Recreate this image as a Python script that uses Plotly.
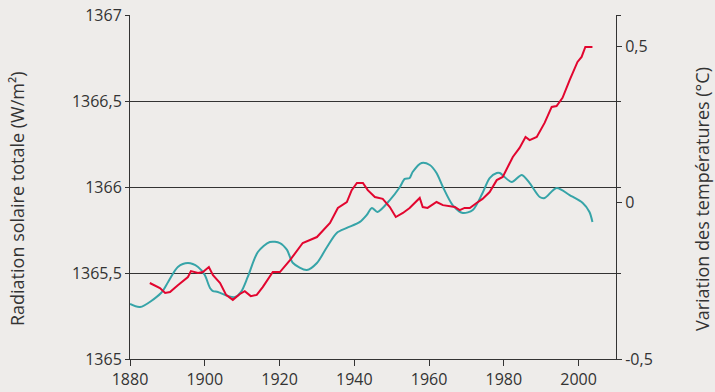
import plotly.graph_objects as go

# Total solar irradiance (W/m²), left axis
solar_years = [1880.0, 1882.7, 1888.3, 1890.2, 1892.8, 1895.5, 1898.2, 1900.0, 1901.4, 1902.2,
               1903.5, 1906.2, 1908.1, 1909.7, 1911.5, 1914.2, 1917.4, 1920.1, 1922.0, 1923.6,
               1927.3, 1930.0, 1932.7, 1935.3, 1938.0, 1941.5, 1943.3, 1944.7, 1946.2, 1949.5,
               1952.2, 1953.5, 1954.8, 1955.6, 1958.0, 1960.2, 1962.0, 1963.7, 1966.3, 1969.0,
               1971.7, 1974.3, 1976.2, 1978.1, 1978.9, 1982.1, 1984.8, 1986.9, 1989.6, 1990.9,
               1994.1, 1997.6, 2001.1, 2002.9, 2003.7]
solar_values = [1365.320, 1365.302, 1365.384, 1365.448, 1365.535, 1365.558, 1365.535, 1365.488, 1365.413, 1365.395,
                1365.390, 1365.366, 1365.360, 1365.390, 1365.477, 1365.622, 1365.680, 1365.674, 1365.634, 1365.558,
                1365.517, 1365.558, 1365.651, 1365.733, 1365.762, 1365.797, 1365.837, 1365.878, 1365.855, 1365.924,
                1366.000, 1366.047, 1366.052, 1366.087, 1366.140, 1366.128, 1366.081, 1366.000, 1365.895, 1365.849,
                1365.866, 1365.965, 1366.052, 1366.081, 1366.081, 1366.029, 1366.070, 1366.023, 1365.942, 1365.936,
                1365.994, 1365.953, 1365.907, 1365.855, 1365.797]

# Temperature anomaly (°C), right axis
temp_years = [1885.3, 1888.0, 1889.4, 1890.7, 1892.8, 1895.5, 1896.3, 1898.2, 1899.5, 1901.1,
              1902.2, 1904.1, 1905.7, 1907.5, 1909.4, 1910.7, 1912.3, 1913.9, 1915.5, 1918.2,
              1920.1, 1922.8, 1926.2, 1930.0, 1933.5, 1935.6, 1938.0, 1939.3, 1940.7, 1942.3,
              1943.6, 1945.5, 1947.6, 1949.5, 1951.1, 1953.0, 1954.8, 1957.5, 1958.3, 1959.6,
              1962.0, 1963.7, 1966.9, 1968.2, 1969.5, 1970.9, 1972.7, 1974.3, 1976.2, 1978.1,
              1979.7, 1981.0, 1982.4, 1984.2, 1985.8, 1986.9, 1988.8, 1990.9, 1992.8, 1994.1,
              1995.7, 1997.6, 1999.7, 2000.8, 2001.8, 2002.9, 2003.7]
temp_values = [-0.257, -0.273, -0.289, -0.286, -0.264, -0.238, -0.219, -0.225, -0.222, -0.206,
               -0.232, -0.257, -0.295, -0.311, -0.292, -0.283, -0.299, -0.295, -0.270, -0.222,
               -0.222, -0.184, -0.129, -0.110, -0.065, -0.017, 0.002, 0.040, 0.063, 0.063,
               0.040, 0.018, 0.012, -0.014, -0.046, -0.033, -0.017, 0.015, -0.014, -0.017,
               0.002, -0.008, -0.014, -0.024, -0.017, -0.017, -0.001, 0.012, 0.034, 0.072,
               0.082, 0.114, 0.146, 0.175, 0.210, 0.200, 0.210, 0.255, 0.306, 0.309,
               0.335, 0.392, 0.450, 0.466, 0.498, 0.498, 0.498]

x_ticks = [1880, 1900, 1920, 1940, 1960, 1980, 2000]
left_ticks = [1365, 1365.5, 1366, 1366.5, 1367]
left_labels = ["1365", "1365,5", "1366", "1366,5", "1367"]
right_ticks = [-0.5, 0, 0.5]
right_labels = ["-0,5", "0", "0,5"]

TEAL = "#36a4a8"
RED = "#e2062f"
INK = "#333333"
FONT = dict(family="Open Sans", size=16, color="#333333")

fig = go.Figure()
fig.add_trace(go.Scatter(x=solar_years, y=solar_values, mode="lines", yaxis="y",
                         line=dict(color=TEAL, width=2, shape="spline", smoothing=0.8),
                         showlegend=False, hoverinfo="skip"))
fig.add_trace(go.Scatter(x=temp_years, y=temp_values, mode="lines", yaxis="y2",
                         line=dict(color=RED, width=2),
                         showlegend=False, hoverinfo="skip"))

fig.update_layout(
    width=715, height=392,
    margin=dict(l=130, r=99, t=15, b=33),
    paper_bgcolor="#eeecea",
    plot_bgcolor="rgba(0,0,0,0)",
    font=FONT,
    xaxis=dict(range=[1880, 2010], tickvals=x_ticks, ticks="outside", ticklen=6,
               tickcolor=INK, showline=True, linecolor=INK, linewidth=1,
               showgrid=False, zeroline=False, tickfont=FONT, automargin=False),
    yaxis=dict(range=[1365, 1367], tickvals=left_ticks, ticktext=left_labels,
               ticks="outside", ticklen=4, tickcolor=INK, showline=True, linecolor=INK,
               linewidth=1, mirror="ticks", showgrid=True, gridcolor=INK, gridwidth=1,
               zeroline=False, tickfont=FONT, automargin=False),
    yaxis2=dict(range=[-0.5, 0.6], tickvals=right_ticks, ticktext=right_labels,
                overlaying="y", side="right", ticks="outside", ticklen=5, tickcolor=INK,
                showline=True, linecolor=INK, linewidth=1, showgrid=False, zeroline=False,
                tickfont=FONT, automargin=False),
    # inner half of the crossing ticks on the temperature axis
    yaxis3=dict(range=[-0.5, 0.6], tickvals=right_ticks, overlaying="y", side="right",
                ticks="inside", ticklen=5, tickcolor=INK, showline=False,
                showticklabels=False, showgrid=False, zeroline=False, automargin=False),
    annotations=[
        dict(text="Radiation solaire totale (W/m²)", xref="paper", yref="paper",
             x=-0.2325, y=0.465, textangle=-90, showarrow=False,
             xanchor="center", yanchor="middle", font=dict(FONT, size=18)),
        dict(text="Variation des températures (°C)", xref="paper", yref="paper",
             x=1.177, y=0.465, textangle=-90, showarrow=False,
             xanchor="center", yanchor="middle", font=dict(FONT, size=18)),
    ],
)

fig.write_html("out.html")
